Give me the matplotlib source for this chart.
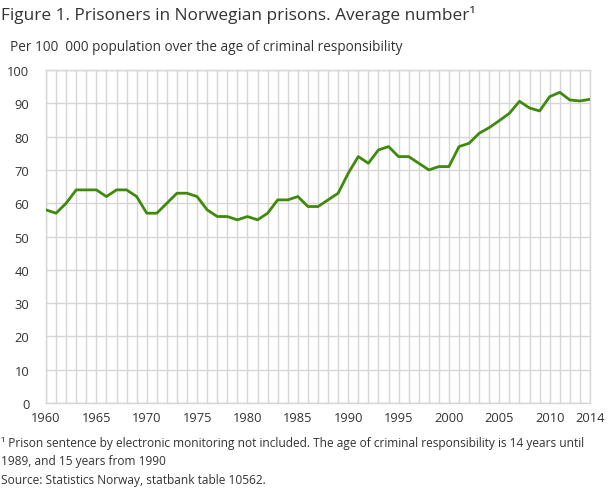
import matplotlib
matplotlib.use("Agg")
import matplotlib.pyplot as plt
from matplotlib.ticker import MultipleLocator

years = list(range(1960, 2015))
prisoners = [58, 57, 60, 64, 64, 64, 62, 64, 64, 62,
             57, 57, 60, 63, 63, 62, 58, 56, 56, 55,
             56, 55, 57, 61, 61, 62, 59, 59, 61, 63,
             69, 74, 72, 76, 77, 74, 74, 72, 70, 71,
             71, 77, 78, 81, 82.7, 84.8, 87, 90.6, 88.6, 87.7,
             92, 93.3, 91, 90.7, 91.2]
xticks = [1960, 1965, 1970, 1975, 1980, 1985, 1990, 1995, 2000, 2005, 2010, 2014]
yticks = list(range(0, 101, 10))

title = "Figure 1. Prisoners in Norwegian prisons. Average number\u00b9"
subtitle = "Per 100  000 population over the age of criminal responsibility"
footnote1 = "\u00b9 Prison sentence by electronic monitoring not included. The age of criminal responsibility is 14 years until"
footnote2 = "1989, and 15 years from 1990"
source = "Source: Statistics Norway, statbank table 10562."

plt.rcParams['font.family'] = ['Open Sans', 'DejaVu Sans']
txt = '#333333'

fig = plt.figure(figsize=(6.1, 4.89), dpi=100)
ax = fig.add_axes([0.0754, 0.1738, 0.8918, 0.681])
ax.plot(years, prisoners, color='#3f8a0c', linewidth=2.0, zorder=3)
ax.set_xlim(1960, 2014)
ax.set_ylim(0, 100)
ax.xaxis.set_minor_locator(MultipleLocator(1))
ax.set_xticks(xticks)
ax.set_yticks(yticks)
ax.grid(True, which='both', axis='x', color='#d6d6d6', linewidth=1)
ax.grid(True, which='major', axis='y', color='#d6d6d6', linewidth=1)
for s in ax.spines.values():
    s.set_color('#d6d6d6')
    s.set_linewidth(1)
ax.tick_params(which='both', length=0, colors=txt, labelsize=9.3)
ax.tick_params(axis='x', pad=6)
ax.tick_params(axis='y', pad=12)
for lbl in ax.get_yticklabels():
    lbl.set_horizontalalignment('right')

fig.text(0.002, 0.970, title, fontsize=12.4, color=txt, va='center', ha='left')
fig.text(0.016, 0.902, subtitle, fontsize=9.8, color=txt, va='center', ha='left')
fig.text(0.002, 0.094, footnote1, fontsize=8.6, color=txt, va='center', ha='left')
fig.text(0.002, 0.057, footnote2, fontsize=8.6, color=txt, va='center', ha='left')
fig.text(0.002, 0.018, source, fontsize=8.6, color=txt, va='center', ha='left')

fig.savefig('out.png', dpi=100)
